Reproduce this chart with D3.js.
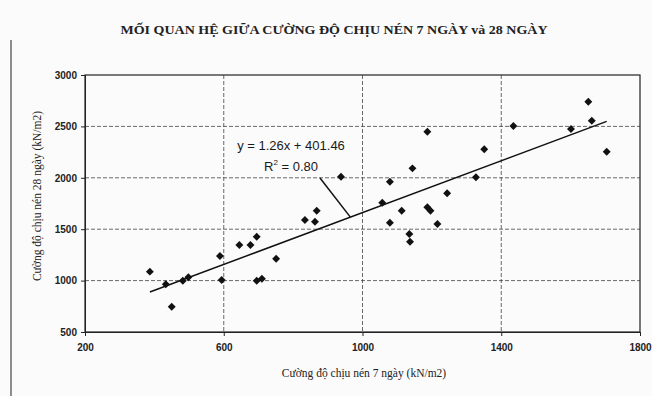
<!DOCTYPE html>
<html>
<head>
<meta charset="utf-8">
<script src="https://cdn.jsdelivr.net/npm/d3@7"></script>
<style>
  body { margin: 0; background: #fbfbfb; }
  svg { display: block; }
  .tick text { font-family: Arial, 'Liberation Sans', sans-serif; font-size: 10px; font-weight: bold; fill: #222; }
  .axis path, .axis line { stroke: #222; }
</style>
</head>
<body>
<div id="chart"></div>
<script>
// data (7-day vs 28-day compressive strength)
const x7 = [387, 433, 450, 482, 498, 589, 594, 645, 677, 695, 695, 710, 751, 834, 863, 868, 938,
  1057, 1079, 1079, 1113, 1144, 1135, 1137, 1187, 1187, 1196, 1216, 1244, 1327, 1351, 1435, 1601, 1651, 1661, 1704];
const y28 = [1087, 964, 746, 999, 1032, 1239, 1006, 1346, 1346, 1427, 999, 1018, 1213, 1589, 1573, 1680, 2011,
  1758, 1962, 1563, 1680, 2092, 1453, 1378, 2448, 1713, 1680, 1551, 1849, 2005, 2277, 2504, 2475, 2740, 2555, 2254];
const xTicks = [200, 600, 1000, 1400, 1800];
const yTicks = [500, 1000, 1500, 2000, 2500, 3000];
const slope = 1.26, intercept = 401.46, r2 = '0.80';

const width = 652, height = 396;
const margin = {top: 75, right: 12, bottom: 64, left: 85};
const serif = "'Liberation Serif', 'Times New Roman', serif";

const svg = d3.select('#chart').append('svg')
  .attr('width', width).attr('height', height);

const xScale = d3.scaleLinear().domain([200, 1800]).range([margin.left, width - margin.right]);
const yScale = d3.scaleLinear().domain([500, 3000]).range([height - margin.bottom, margin.top]);

// outer frame line on the left of the scan
svg.append('line')
  .attr('x1', 11).attr('x2', 11).attr('y1', 40).attr('y2', height)
  .attr('stroke', '#444').attr('stroke-width', 1.2);

// title
svg.append('text')
  .attr('x', 334).attr('y', 34)
  .attr('text-anchor', 'middle')
  .attr('textLength', 427).attr('lengthAdjust', 'spacingAndGlyphs')
  .style('font-family', serif)
  .style('font-weight', 'bold')
  .style('font-size', '12.5px')
  .attr('fill', '#222')
  .text('MỐI QUAN HỆ GIỮA CƯỜNG ĐỘ CHỊU NÉN 7 NGÀY và 28 NGÀY');

// grid
svg.append('g').selectAll('line').data(yTicks.slice(1, -1)).enter()
  .append('line')
  .attr('x1', margin.left).attr('x2', width - margin.right)
  .attr('y1', (d) => yScale(d)).attr('y2', (d) => yScale(d))
  .attr('stroke', '#444').attr('stroke-width', 0.8).attr('stroke-dasharray', '4,2');
svg.append('g').selectAll('line').data(xTicks.slice(1, -1)).enter()
  .append('line')
  .attr('y1', margin.top).attr('y2', height - margin.bottom)
  .attr('x1', (d) => xScale(d)).attr('x2', (d) => xScale(d))
  .attr('stroke', '#444').attr('stroke-width', 0.8).attr('stroke-dasharray', '4,2');

// plot border
svg.append('rect')
  .attr('x', margin.left).attr('y', margin.top)
  .attr('width', width - margin.left - margin.right)
  .attr('height', height - margin.top - margin.bottom)
  .attr('fill', 'none').attr('stroke', '#222').attr('stroke-width', 1.2);

// axes
const xAxis = d3.axisBottom(xScale).tickValues(xTicks).tickFormat(d3.format('d')).tickSize(4).tickPadding(8);
svg.append('g')
  .attr('class', 'axis')
  .attr('transform', 'translate(0,' + (height - margin.bottom) + ')')
  .call(xAxis);
const yAxis = d3.axisLeft(yScale).tickValues(yTicks).tickFormat(d3.format('d')).tickSize(4).tickPadding(4);
svg.append('g')
  .attr('class', 'axis')
  .attr('transform', 'translate(' + margin.left + ',0)')
  .call(yAxis);

// axis titles
svg.append('text')
  .attr('x', 364).attr('y', 377)
  .attr('text-anchor', 'middle')
  .style('font-family', serif)
  .style('font-size', '11.5px')
  .attr('fill', '#222')
  .text('Cường độ chịu nén 7 ngày (kN/m2)');
svg.append('text')
  .attr('transform', 'translate(' + 41 + ',' + 196 + ') rotate(-90)')
  .attr('text-anchor', 'middle')
  .style('font-family', serif)
  .style('font-size', '11.5px')
  .attr('fill', '#222')
  .text('Cường độ chịu nén 28 ngày (kN/m2)');

// trend line
const xMin = d3.min(x7), xMax = d3.max(x7);
svg.append('line')
  .attr('x1', xScale(xMin)).attr('y1', yScale(slope * xMin + intercept))
  .attr('x2', xScale(xMax)).attr('y2', yScale(slope * xMax + intercept))
  .attr('stroke', '#111').attr('stroke-width', 1.5);

// points
const diamond = d3.symbol().type(d3.symbolDiamond2).size(40);
svg.append('g').selectAll('path').data(x7).enter()
  .append('path')
  .attr('d', diamond)
  .attr('transform', (d, i) => 'translate(' + xScale(d) + ',' + yScale(y28[i]) + ')')
  .attr('fill', '#111');

// equation label and leader line
const eq = svg.append('g')
  .style('font-family', 'Arial, "Liberation Sans", sans-serif')
  .style('font-size', '13px')
  .attr('fill', '#1a1a1a')
  .attr('text-anchor', 'middle');
eq.append('text').attr('x', 291).attr('y', 150).text('y = ' + slope + 'x + ' + intercept);
const r = eq.append('text').attr('x', 291).attr('y', 171);
r.append('tspan').text('R');
r.append('tspan').attr('dy', -6).style('font-size', '8px').text('2');
r.append('tspan').attr('dy', 6).text(' = ' + r2);
const leadX = 965;
svg.append('line')
  .attr('x1', 320).attr('y1', 178)
  .attr('x2', xScale(leadX)).attr('y2', yScale(slope * leadX + intercept))
  .attr('stroke', '#111').attr('stroke-width', 1.5);
</script>
</body>
</html>
